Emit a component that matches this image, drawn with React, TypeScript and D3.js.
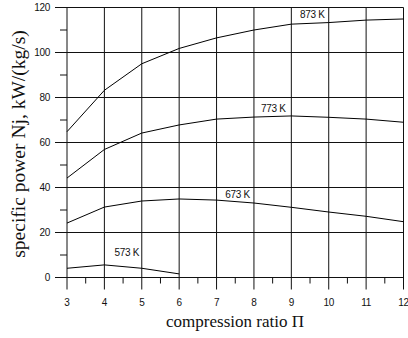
import React from "react";
import * as d3 from "d3";

const ratios = [3, 4, 5, 6, 7, 8, 9, 10, 11, 12];
const s873 = [64.8, 83.2, 95, 101.8, 106.5, 110, 112.6, 113.3, 114.4, 114.9];
const s773 = [44.2, 56.9, 64.2, 67.8, 70.4, 71.3, 71.8, 71.2, 70.4, 69];
const s673 = [24.2, 31.3, 34, 34.9, 34.4, 33.1, 31.2, 29.1, 27.2, 24.8];
const ratios573 = [3, 4, 5, 6];
const s573 = [4.1, 5.6, 4.1, 1.6];
const xTicks = [3, 4, 5, 6, 7, 8, 9, 10, 11, 12];
const xMinor = [3.5, 4.5, 5.5, 6.5, 7.5, 8.5, 9.5, 10.5, 11.5];
const yTicks = [0, 20, 40, 60, 80, 100, 120];
const yMinor = [10, 30, 50, 70, 90, 110];
const labels = [
  { text: "873 K", x: 9.23, y: 115.3 },
  { text: "773 K", x: 8.19, y: 73.7 },
  { text: "673 K", x: 7.23, y: 35.5 },
  { text: "573 K", x: 4.27, y: 9.7 },
];

export default function App() {
  const x = d3.scaleLinear().domain([3, 12]).range([67, 403.5]);
  const y = d3.scaleLinear().domain([0, 120]).range([277.5, 7.5]);
  const line = d3
    .line<[number, number]>()
    .x((d) => x(d[0]))
    .y((d) => y(d[1]));
  const series = [
    ratios.map((r, i) => [r, s873[i]] as [number, number]),
    ratios.map((r, i) => [r, s773[i]] as [number, number]),
    ratios.map((r, i) => [r, s673[i]] as [number, number]),
    ratios573.map((r, i) => [r, s573[i]] as [number, number]),
  ];
  const y0 = y(0);
  return (
    <svg
      width={408}
      height={338}
      style={{ position: "absolute", left: 0, top: 0, background: "#fff" }}
    >
      <g stroke="#111" strokeWidth={1} fill="none">
        {xTicks.map((t) => (
          <line key={"xv" + t} x1={x(t)} x2={x(t)} y1={y(120)} y2={y0 + 12} />
        ))}
        {yTicks.map((t) => (
          <line key={"yh" + t} x1={55} x2={x(12)} y1={y(t)} y2={y(t)} />
        ))}
        {xMinor.map((t) => (
          <line key={"xm" + t} x1={x(t)} x2={x(t)} y1={y0} y2={y0 + 6} />
        ))}
        {yMinor.map((t) => (
          <line key={"ym" + t} x1={60} x2={x(3)} y1={y(t)} y2={y(t)} />
        ))}
      </g>
      <g stroke="#000" strokeWidth={1} fill="none">
        {series.map((s, i) => (
          <path key={i} d={line(s) || ""} />
        ))}
      </g>
      <g fontFamily="Liberation Sans, Arial, sans-serif" fontSize={10} fill="#111">
        {yTicks.map((t) => (
          <text key={"yl" + t} x={50} y={y(t) + 3.5} textAnchor="end" letterSpacing={-0.3}>
            {t}
          </text>
        ))}
        {xTicks.map((t) => (
          <text key={"xl" + t} x={x(t)} y={306} textAnchor="middle" letterSpacing={-0.3}>
            {t}
          </text>
        ))}
        {labels.map((l) => (
          <text key={l.text} x={x(l.x)} y={y(l.y)} letterSpacing={-0.3}>
            {l.text}
          </text>
        ))}
      </g>
      <g fontFamily="Liberation Serif, Times New Roman, serif" fill="#111">
        <text x={235} y={327} textAnchor="middle" fontSize={17}>
          compression ratio Π
        </text>
        <text
          transform={`translate(25, 144) rotate(-90)`}
          textAnchor="middle"
          fontSize={19.5}
        >
          specific power Nj, kW/(kg/s)
        </text>
      </g>
    </svg>
  );
}
